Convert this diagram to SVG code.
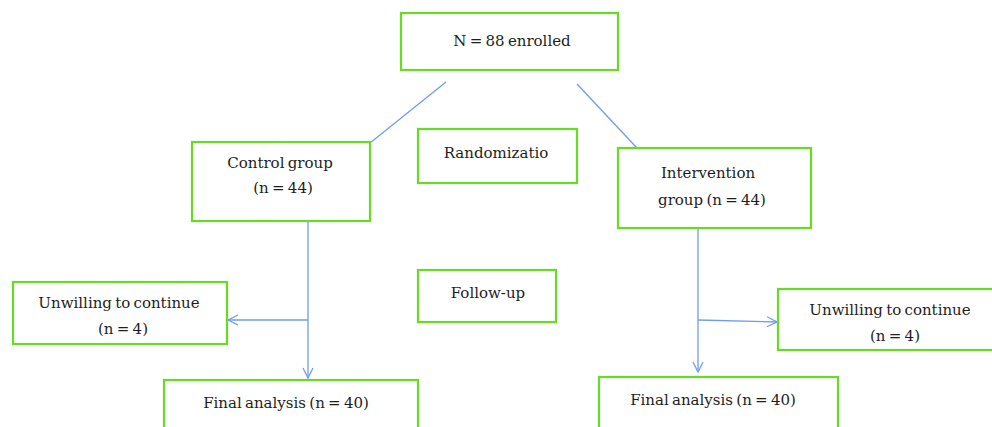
<svg xmlns="http://www.w3.org/2000/svg" width="992" height="427" viewBox="0 0 992 427">
<defs>
<style>
.box{fill:#fff;stroke:#66dd22;stroke-width:2.2}
.t{font-family:"DejaVu Serif","Liberation Serif",serif;font-size:15px;fill:#1e1e1e;text-anchor:middle;word-spacing:-1.5px}
.c{fill:none;stroke:#6f9cf2;stroke-width:1.3}
</style>
<marker id="ah" viewBox="0 0 12 12" refX="11" refY="6" markerWidth="12" markerHeight="12" markerUnits="userSpaceOnUse" orient="auto">
<path d="M1,1 L11,6 L1,11" fill="none" stroke="#6f9cf2" stroke-width="1.3"/>
</marker>
</defs>
<rect width="992" height="427" fill="#fff"/>
<g id="connectors">
<line class="c" x1="446" y1="82" x2="370" y2="143"/>
<line class="c" x1="577" y1="84" x2="637" y2="148"/>
<line class="c" x1="308" y1="221" x2="308" y2="378" marker-end="url(#ah)"/>
<line class="c" x1="308" y1="320" x2="228" y2="320" marker-end="url(#ah)"/>
<line class="c" x1="698" y1="228" x2="698" y2="372" marker-end="url(#ah)"/>
<line class="c" x1="698" y1="320" x2="777" y2="322" marker-end="url(#ah)"/>
</g>
<g id="enrolled">
<rect class="box" x="401" y="13" width="217" height="57"/>
<text class="t" x="512" y="46">N = 88 enrolled</text>
</g>
<g id="randomization">
<rect class="box" x="418" y="129" width="159" height="54"/>
<text class="t" x="496" y="158">Randomizatio</text>
</g>
<g id="control">
<rect class="box" x="192" y="142" width="178" height="79"/>
<text class="t" x="280" y="168">Control group</text>
<text class="t" x="283" y="193">(n = 44)</text>
</g>
<g id="intervention">
<rect class="box" x="618" y="148" width="193" height="80"/>
<text class="t" x="708" y="178">Intervention</text>
<text class="t" x="712" y="205">group (n = 44)</text>
</g>
<g id="followup">
<rect class="box" x="418" y="270" width="138" height="52"/>
<text class="t" x="488" y="298">Follow-up</text>
</g>
<g id="unwilling-left">
<rect class="box" x="13" y="282" width="214" height="62"/>
<text class="t" x="119" y="308">Unwilling to continue</text>
<text class="t" x="123" y="334">(n = 4)</text>
</g>
<g id="unwilling-right">
<rect class="box" x="778" y="289" width="216" height="61"/>
<text class="t" x="890" y="315">Unwilling to continue</text>
<text class="t" x="895" y="341">(n = 4)</text>
</g>
<g id="final-left">
<rect class="box" x="164" y="380" width="254" height="60"/>
<text class="t" x="286" y="408">Final analysis (n = 40)</text>
</g>
<g id="final-right">
<rect class="box" x="599" y="377" width="239" height="63"/>
<text class="t" x="713" y="405">Final analysis (n = 40)</text>
</g>
</svg>
